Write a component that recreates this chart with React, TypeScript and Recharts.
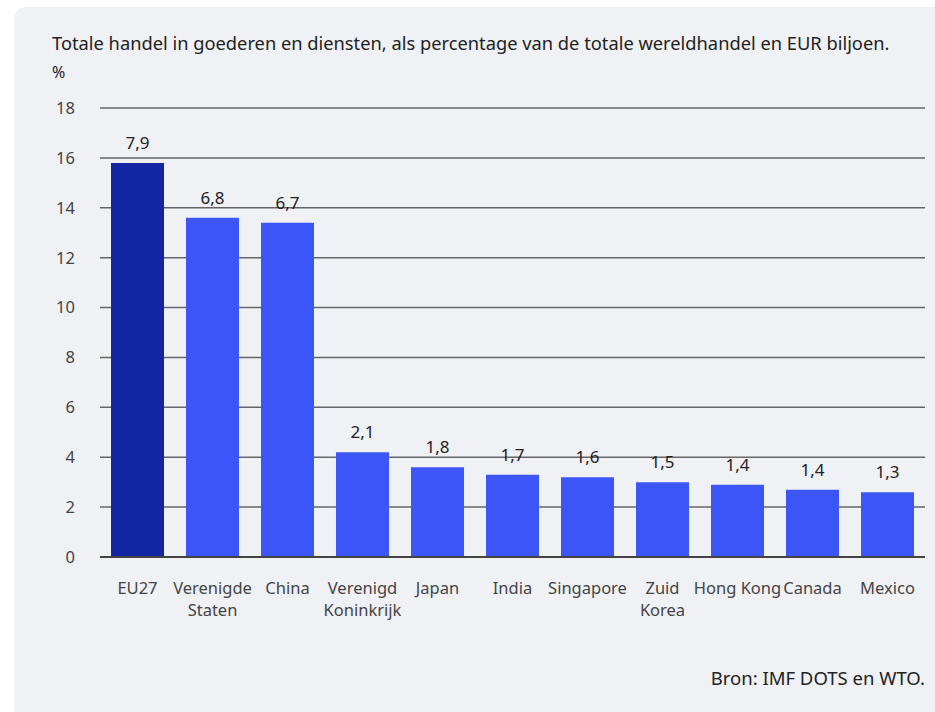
import React from "react";
import { BarChart, Bar, XAxis, YAxis, CartesianGrid, Cell, LabelList, ReferenceLine } from "recharts";

// categories (\n = line break in axis label)
const countries = [
  "EU27",
  "Verenigde\nStaten",
  "China",
  "Verenigd\nKoninkrijk",
  "Japan",
  "India",
  "Singapore",
  "Zuid\nKorea",
  "Hong Kong",
  "Canada",
  "Mexico",
];
// share of world trade, %
const sharePct = [15.8, 13.6, 13.4, 4.2, 3.6, 3.3, 3.2, 3.0, 2.9, 2.7, 2.6];
// trade value, EUR trillion (shown above bars)
const valueEurTn = ["7,9", "6,8", "6,7", "2,1", "1,8", "1,7", "1,6", "1,5", "1,4", "1,4", "1,3"];
const yTicks = [0, 2, 4, 6, 8, 10, 12, 14, 16, 18];

const data = countries.map((c, i) => ({ name: c, share: sharePct[i], label: valueEurTn[i] }));

const FONT = "'Noto Sans', 'Open Sans', sans-serif";
const DARK = "#1226a4";
const BLUE = "#3b55f6";

function CountryTick(props: any) {
  const { x, y, payload } = props;
  const lines = String(payload.value).split("\n");
  return (
    <text x={x} y={y} textAnchor="middle" fill="#444" fontSize={16.5} fontFamily={FONT}>
      {lines.map((l: string, i: number) => (
        <tspan key={i} x={x} dy={i === 0 ? 29 : 22}>
          {l}
        </tspan>
      ))}
    </text>
  );
}

export default function App() {
  return (
    <div style={{ position: "fixed", left: 0, top: 0, width: 935, height: 712, background: "#fff", overflow: "hidden" }}>
      <div
        style={{
          position: "absolute",
          left: 14,
          top: 7,
          width: 940,
          height: 720,
          background: "#f0f1f5",
          borderRadius: 12,
        }}
      />
      <div style={{ position: "absolute", left: 52, top: 30, fontFamily: FONT, fontSize: 18.3, color: "#222", whiteSpace: "nowrap" }}>
        Totale handel in goederen en diensten, als percentage van de totale wereldhandel en EUR biljoen.
      </div>
      <div style={{ position: "absolute", left: 52, top: 61, fontFamily: FONT, fontSize: 16, color: "#222" }}>%</div>
      <div style={{ position: "absolute", right: 10, top: 665, fontFamily: FONT, fontSize: 18.5, color: "#222", whiteSpace: "nowrap" }}>
        Bron: IMF DOTS en WTO.
      </div>
      <div style={{ position: "absolute", left: 0, top: 0 }}>
        <BarChart width={935} height={712} data={data} margin={{ top: 108, right: 10, bottom: 95, left: 40 }} barCategoryGap={11}>
          <CartesianGrid vertical={false} stroke="#666" strokeWidth={1.5} />
          <XAxis
            dataKey="name"
            axisLine={false}
            tickLine={false}
            interval={0}
            height={60}
            tick={<CountryTick />}
          />
          <YAxis
            domain={[0, 18]}
            ticks={yTicks}
            width={60}
            axisLine={false}
            tickLine={false}
            tickMargin={19}
            tick={{ fill: "#444", fontSize: 16.5, fontFamily: FONT }}
          />
          <Bar dataKey="share" isAnimationActive={false}>
            {data.map((d, i) => (
              <Cell key={d.name} fill={i === 0 ? DARK : BLUE} />
            ))}
            <LabelList dataKey="label" position="top" offset={14} fill="#222" fontSize={17} fontFamily={FONT} />
          </Bar>
          <ReferenceLine y={0} stroke="#444" strokeWidth={2} />
        </BarChart>
      </div>
    </div>
  );
}
